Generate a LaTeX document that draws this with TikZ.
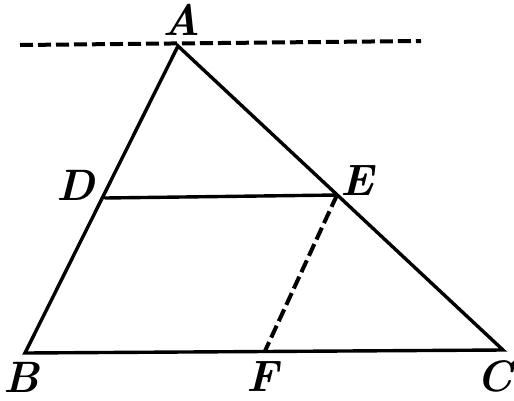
\documentclass[tikz,border=0pt]{standalone}
\usetikzlibrary{calc}
\begin{document}
\begin{tikzpicture}[x=1pt,y=-1pt,
  edge/.style={line width=3.4pt,line cap=round},
  dashedge/.style={line width=4pt,dash pattern=on 13pt off 5pt},
  lab/.style={font=\fontsize{44}{44}\selectfont\bfseries\itshape,inner sep=0pt}]
\useasboundingbox (0,0) rectangle (514,400);
\coordinate (A) at (178,46);
\coordinate (B) at (25,353);
\coordinate (C) at (503,350);
\coordinate (D) at (105,198);
\coordinate (E) at (337,195);
\coordinate (F) at (265,351);
\coordinate (L1) at (20,45);
\coordinate (L2) at (421,41);
\draw[dashedge] (L1) -- (L2);
\draw[edge] (A) -- (B) -- (C) -- cycle;
\draw[edge] (D) -- (E);
\draw[dashedge] (E) -- (F);
\node[lab] (lA) at (182,20) {A};
\node[lab] (lD) at (76,185) {D};
\node[lab] (lE) at (357,181) {E};
\node[lab] (lB) at (21,377) {B};
\node[lab] (lF) at (262,377) {F};
\node[lab] (lC) at (495,376) {C};
\end{tikzpicture}
\end{document}
